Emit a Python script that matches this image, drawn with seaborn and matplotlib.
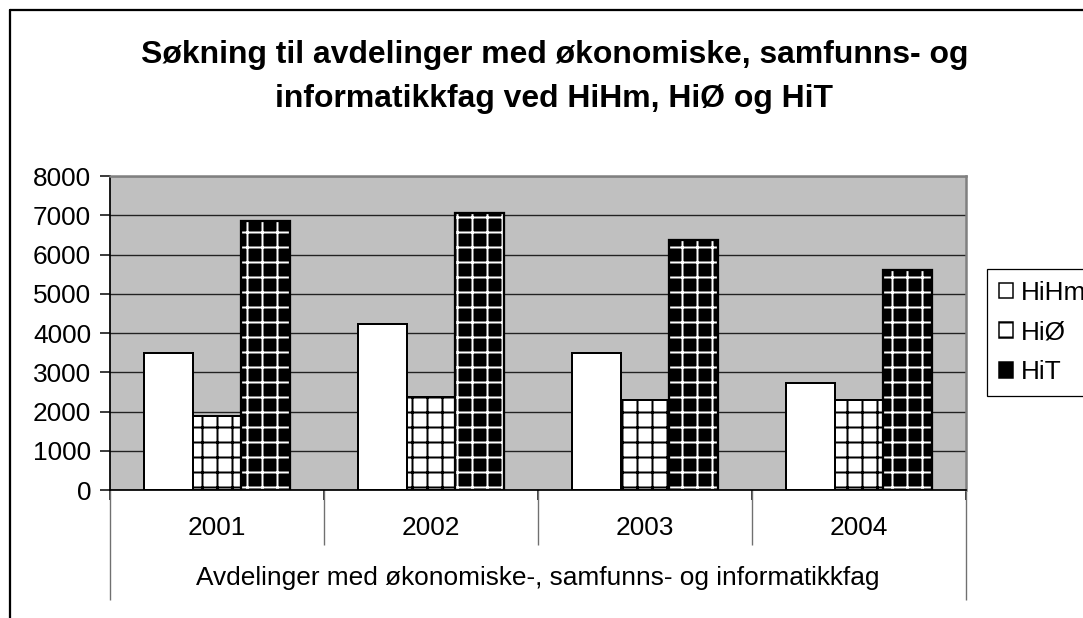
import numpy as np
import pandas as pd
import matplotlib.pyplot as plt
import seaborn as sns
from matplotlib.patches import Patch, Rectangle
from matplotlib.lines import Line2D
from matplotlib.transforms import blended_transform_factory

# data
years = ["2001", "2002", "2003", "2004"]
hihm = [3480, 4240, 3480, 2720]
hio = [1890, 2360, 2290, 2290]
hit = [6860, 7060, 6360, 5600]
schools = ["HiHm", "HiØ", "HiT"]

df = pd.DataFrame({
    "År": years * 3,
    "Søkere": hihm + hio + hit,
    "Skole": [s for s in schools for _ in years],
})

sns.set_style("ticks")
plt.rcParams["font.family"] = ["Liberation Sans", "DejaVu Sans"]
plt.rcParams["hatch.linewidth"] = 1.6
plt.rcParams["text.color"] = "black"
plt.rcParams["xtick.color"] = "black"
plt.rcParams["ytick.color"] = "black"

W, H, DPI = 1083, 618, 90
fig = plt.figure(figsize=(W / DPI, H / DPI), dpi=DPI)
ax = fig.add_axes([110 / W, 1 - 490 / H, (966 - 110) / W, (490 - 176) / H])
ax.set_facecolor("#c0c0c0")

sns.barplot(data=df, x="År", y="Søkere", hue="Skole", palette=["white", "white", "black"],
            width=0.68, saturation=1, errorbar=None, edgecolor="black", linewidth=1.6,
            legend=False, ax=ax, zorder=3)

# hatch patterns
for bar in ax.containers[1]:
    bar.set_hatch("+")
for bar in ax.containers[2]:
    bar.set_hatch("+")
    bar.set_edgecolor("white")
    bar.set_linewidth(0)
    ax.add_patch(Rectangle(bar.get_xy(), bar.get_width(), bar.get_height(),
                           fill=False, ec="black", lw=1.8, zorder=4))

ax.set_ylim(0, 8000)
ax.set_xlim(-0.5, len(years) - 0.5)
ax.set_yticks(np.arange(0, 8001, 1000))
ax.yaxis.grid(True, color="#222222", lw=1.1)
ax.set_axisbelow(True)
ax.tick_params(axis="y", length=8, width=1.2, pad=7, labelsize=21, colors="black")
ax.tick_params(axis="x", which="major", length=0, pad=21, labelsize=21, colors="black")

# category boundaries
bounds = np.arange(len(years) + 1) - 0.5
ax.set_xticks(bounds, minor=True)
ax.tick_params(axis="x", which="minor", length=8, width=1.2, color="black")
tr = blended_transform_factory(ax.transData, ax.transAxes)
ax.vlines(bounds[1:-1], -55 / 314, 0, transform=tr, colors="#707070", lw=1.1, clip_on=False)
ax.vlines(bounds[[0, -1]], -110 / 314, 0, transform=tr, colors="#707070", lw=1.1, clip_on=False)

ax.set_xlabel("")
ax.set_ylabel("")
ax.text(0.5, -88 / 314, "Avdelinger med økonomiske-, samfunns- og informatikkfag",
        transform=ax.transAxes, ha="center", va="center", fontsize=21)

for s in ["left", "bottom"]:
    ax.spines[s].set_color("black")
    ax.spines[s].set_linewidth(1.4)
for s in ["top", "right"]:
    ax.spines[s].set_color("#808080")
    ax.spines[s].set_linewidth(2)

fig.text(0.512, 1 - 77 / H, "Søkning til avdelinger med økonomiske, samfunns- og\n"
         "informatikkfag ved HiHm, HiØ og HiT", ha="center", va="center",
         fontsize=25.5, fontweight="bold", linespacing=1.58)

handles = [Patch(facecolor="white", edgecolor="black", lw=1.2),
           Patch(facecolor="white", edgecolor="black", hatch="-", lw=1.2),
           Patch(facecolor="black", edgecolor="black", lw=1.2)]
fig.legend(handles, schools, loc="upper left", bbox_to_anchor=(987 / W, 1 - 269 / H),
           frameon=True, fancybox=False, edgecolor="black", framealpha=1,
           fontsize=21, handlelength=0.55, handleheight=0.55, handletextpad=0.3,
           borderpad=0.45, labelspacing=0.6, borderaxespad=0)

# outer chart border
x0 = 10 / W
y1 = 1 - 10 / H
fig.add_artist(Line2D([x0, x0], [0, y1], transform=fig.transFigure, color="black", lw=1.8))
fig.add_artist(Line2D([x0, 1], [y1, y1], transform=fig.transFigure, color="black", lw=1.8))

fig.savefig("out.png", dpi=DPI)
